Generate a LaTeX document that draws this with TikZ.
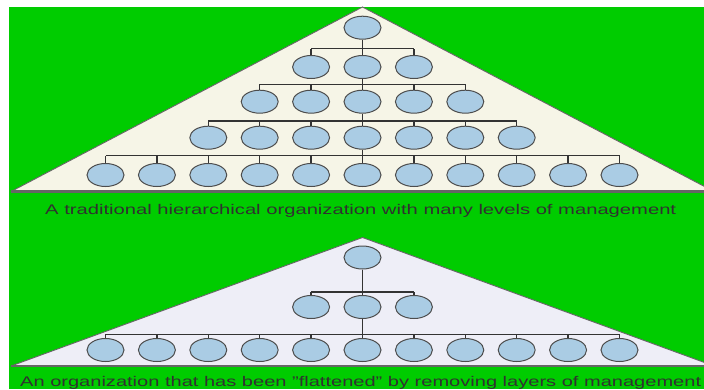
\documentclass[tikz,border=0pt]{standalone}
\usepackage{fontspec}
\setmainfont{Liberation Sans}
\usetikzlibrary{shapes.geometric}
\definecolor{bggreen}{HTML}{00CC00}
\definecolor{cream}{HTML}{F6F5E7}
\definecolor{lav}{HTML}{EEEEF7}
\definecolor{empfill}{HTML}{AACCE4}
\definecolor{empline}{HTML}{4D4D4D}
\definecolor{txt}{HTML}{303030}
\newcommand\capone{A traditional hierarchical organization with many levels of management}
\newcommand\captwo{An organization that has been "flattened" by removing layers of management}
\begin{document}
\begin{tikzpicture}[x=1pt,y=-1pt,
  emp/.style={ellipse,draw=empline,fill=empfill,line width=1pt,minimum width=37pt,minimum height=23pt,inner sep=0pt},
  conn/.style={draw=black!80,line width=1.3pt},
  side/.style={draw=black!60,line width=0.9pt},
  baseline/.style={draw=black!60,line width=2.4pt},
  caption/.style={anchor=base west,inner sep=0pt,text=txt,font=\fontsize{14}{16}\selectfont}]
\useasboundingbox (0,0) rectangle (704,389);
\clip (0,0) rectangle (704,389);
\fill[white] (0,0) rectangle (704,389);
\fill[bggreen] (9,7) rectangle (704,389);
% top pyramid
\fill[cream] (362.5,7) -- (11,191.5) -- (714,191.5) -- cycle;
\draw[side] (11,191.5) -- (362.5,7) -- (714,191.5);
\draw[baseline] (11,191.5) -- (704,191.5);
% bottom pyramid
\fill[lav] (362.5,237.5) -- (11,366) -- (714,366) -- cycle;
\draw[side] (11,366) -- (362.5,237.5) -- (714,366);
\draw[baseline] (11,366) -- (704,366);
% top nodes
\foreach \r/\n/\y in {1/1/27.7,2/3/67,3/5/101.7,4/7/137.7,5/11/175}{
  \foreach \i in {1,...,\n}{
    \node[emp] (t\r-\i) at ({362.5+(\i-(\n+1)/2)*51.4},\y) {};
  }
}
\foreach \r/\n/\by/\p/\pn in {2/3/48.5/1/1,3/5/84.3/2/3,4/7/121/3/5,5/11/155.7/4/7}{
  \pgfmathtruncatemacro\mid{(\pn+1)/2}
  \coordinate (tb\r) at (362.5,\by);
  \draw[conn] (t\p-\mid.south) -- (tb\r);
  \draw[conn] (t\r-1.north |- tb\r) -- (t\r-\n.north |- tb\r);
  \foreach \i in {1,...,\n}{
    \draw[conn] (t\r-\i.north) -- (t\r-\i.north |- tb\r);
  }
}
% bottom nodes
\foreach \r/\n/\y in {1/1/257.5,2/3/307,3/11/350}{
  \foreach \i in {1,...,\n}{
    \node[emp] (b\r-\i) at ({362.5+(\i-(\n+1)/2)*51.4},\y) {};
  }
}
\foreach \r/\n/\by/\p/\pn in {2/3/292/1/1,3/11/334.3/2/3}{
  \pgfmathtruncatemacro\mid{(\pn+1)/2}
  \coordinate (bb\r) at (362.5,\by);
  \draw[conn] (b\p-\mid.south) -- (bb\r);
  \draw[conn] (b\r-1.north |- bb\r) -- (b\r-\n.north |- bb\r);
  \foreach \i in {1,...,\n}{
    \draw[conn] (b\r-\i.north) -- (b\r-\i.north |- bb\r);
  }
}
% captions
\node[caption] (cap1) at (45,214) {\resizebox{631pt}{\height}{\capone}};
\node[caption] (cap2) at (20,386.2) {\resizebox{681pt}{\height}{\captwo}};
\end{tikzpicture}
\end{document}
